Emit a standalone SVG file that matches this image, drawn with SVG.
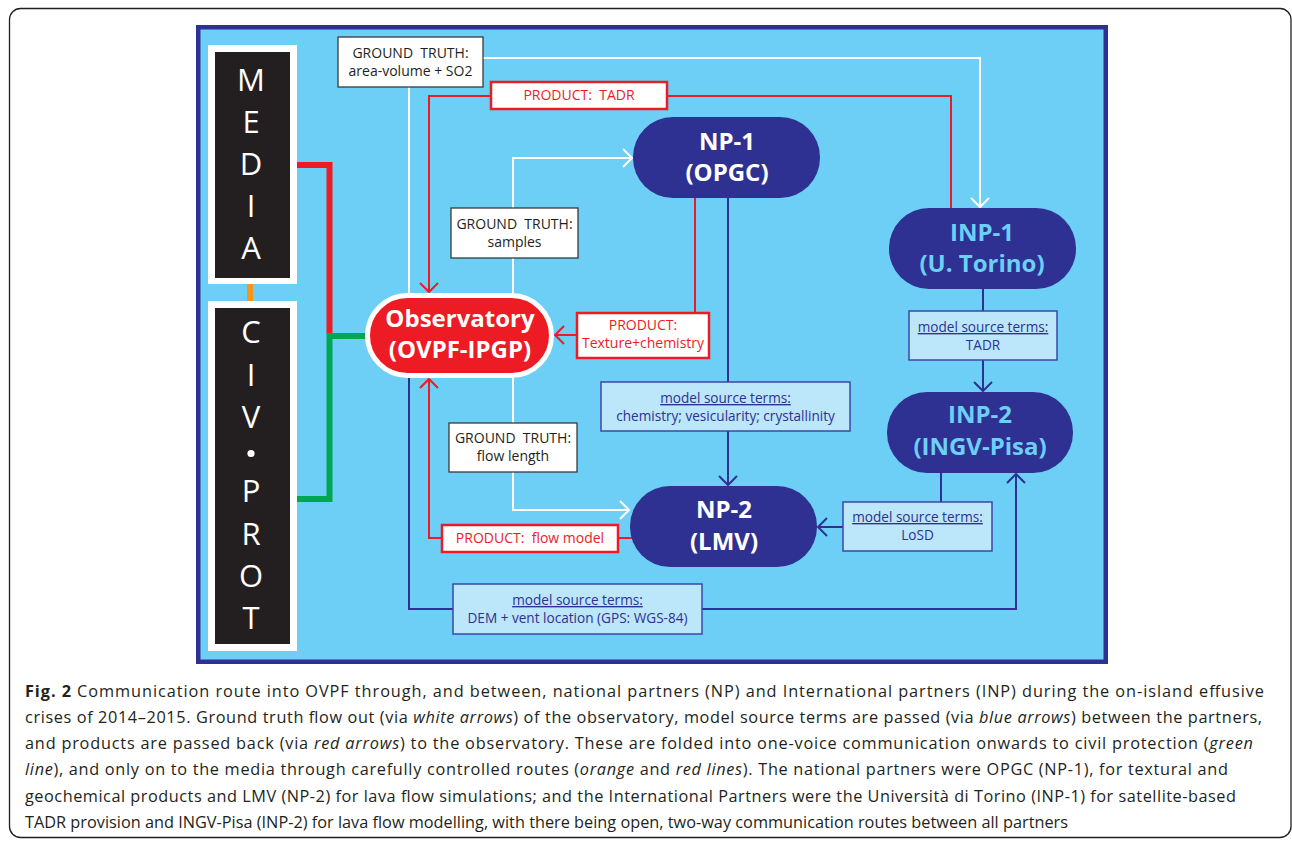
<svg xmlns="http://www.w3.org/2000/svg" width="1292" height="841" viewBox="0 0 1292 841">
<style>
text{font-family:"Open Sans","Noto Sans","DejaVu Sans",sans-serif;}
.node-text{font-weight:bold;font-size:24px;text-anchor:middle;}
.w{fill:#ffffff;}
.lb{fill:#6dcff6;}
.gt rect{fill:#ffffff;stroke:#3a3a3a;stroke-width:1.3;}
.gt text{fill:#231f20;font-size:14px;text-anchor:middle;}
.pr rect{fill:#ffffff;stroke:#ed1c24;stroke-width:2.5;}
.pr text{fill:#ed1c24;font-size:14px;text-anchor:middle;}
.ms rect{fill:#bce6fa;stroke:#3a48a8;stroke-width:1.5;}
.ms text{fill:#2e3192;font-size:13.6px;text-anchor:middle;}
.ul{text-decoration:underline;}
.big{fill:#ffffff;font-size:31px;text-anchor:middle;}
.cap{fill:#231f20;font-size:16.3px;}
.it{font-style:italic;}
.cw{fill:none;stroke:#ffffff;stroke-width:2;}
.cr{fill:none;stroke:#ed1c24;stroke-width:2;}
.cb{fill:none;stroke:#2e3192;stroke-width:2;}
</style>
<defs>
<marker id="aw" markerUnits="userSpaceOnUse" markerWidth="24" markerHeight="24" viewBox="-12 -12 24 24" refX="0" refY="0" orient="auto"><path d="M-9,-9 L0,0 L-9,9" fill="none" stroke="#ffffff" stroke-width="2"/></marker>
<marker id="ar" markerUnits="userSpaceOnUse" markerWidth="24" markerHeight="24" viewBox="-12 -12 24 24" refX="0" refY="0" orient="auto"><path d="M-9,-9 L0,0 L-9,9" fill="none" stroke="#ed1c24" stroke-width="2"/></marker>
<marker id="ab" markerUnits="userSpaceOnUse" markerWidth="24" markerHeight="24" viewBox="-12 -12 24 24" refX="0" refY="0" orient="auto"><path d="M-9,-9 L0,0 L-9,9" fill="none" stroke="#2e3192" stroke-width="2"/></marker>
</defs>
<rect x="0" y="0" width="1292" height="841" fill="#ffffff"/>
<rect x="9.5" y="8.5" width="1281.5" height="829" rx="11" fill="none" stroke="#231f20" stroke-width="1.3"/>
<rect id="frame" x="198.25" y="27.25" width="907.5" height="634.5" fill="#6dcff6" stroke="#2e3192" stroke-width="4.5"/>

<g id="connectors">
<path d="M297,165 H329.5 V334" fill="none" stroke="#ed1c24" stroke-width="6"/>
<path d="M365,336 H329.5 V499 H297" fill="none" stroke="#00a651" stroke-width="6"/>
<path d="M250,283 V302" fill="none" stroke="#f7941d" stroke-width="6"/>
<path class="cw" d="M409,293 V87"/>
<path class="cw" d="M483,58 H980 V207" marker-end="url(#aw)"/>
<path class="cw" d="M513,293 V158 H632" marker-end="url(#aw)"/>
<path class="cw" d="M513,378 V510 H629" marker-end="url(#aw)"/>
<path class="cr" d="M491,96 H429 V292" marker-end="url(#ar)"/>
<path class="cr" d="M667,96 H951 V209"/>
<path class="cr" d="M695,196 V313"/>
<path class="cr" d="M577,335 H555" marker-end="url(#ar)"/>
<path class="cr" d="M633,538 H618"/>
<path class="cr" d="M442,538 H429 V379" marker-end="url(#ar)"/>
<path class="cb" d="M728,196 V382"/>
<path class="cb" d="M728,431 V485" marker-end="url(#ab)"/>
<path class="cb" d="M983,287 V311"/>
<path class="cb" d="M983,360 V391" marker-end="url(#ab)"/>
<path class="cb" d="M941,471 V502"/>
<path class="cb" d="M843,527 H818" marker-end="url(#ab)"/>
<path class="cb" d="M409,378 V609 H453"/>
<path class="cb" d="M702,609 H1016 V474" marker-end="url(#ab)"/>
</g>

<g id="media">
<rect x="208" y="45" width="89" height="239" fill="#ffffff"/>
<rect x="215" y="52" width="75" height="226" fill="#231f20"/>
<text class="big" x="251" y="91">M</text>
<text class="big" x="251" y="133">E</text>
<text class="big" x="251" y="175">D</text>
<text class="big" x="251" y="217">I</text>
<text class="big" x="251" y="259">A</text>
</g>

<g id="civprot">
<rect x="208" y="301" width="89" height="350" fill="#ffffff"/>
<rect x="215" y="308" width="75" height="336" fill="#231f20"/>
<text class="big" x="251" y="343">C</text>
<text class="big" x="251" y="386">I</text>
<text class="big" x="251" y="428">V</text>
<circle cx="251" cy="453.5" r="3.6" fill="#ffffff"/>
<text class="big" x="251" y="502">P</text>
<text class="big" x="251" y="545">R</text>
<text class="big" x="251" y="587">O</text>
<text class="big" x="251" y="629">T</text>
</g>

<g id="observatory">
<rect x="367.5" y="295.5" width="184" height="80" rx="40" fill="#ed1c24" stroke="#ffffff" stroke-width="5"/>
<text class="node-text w" x="460" y="327">Observatory</text>
<text class="node-text w" x="460" y="358">(OVPF-IPGP)</text>
</g>

<g id="np1">
<rect x="633" y="117" width="187" height="81" rx="40" fill="#2e3192"/>
<text class="node-text w" x="727" y="150">NP-1</text>
<text class="node-text w" x="727" y="181">(OPGC)</text>
</g>

<g id="inp1">
<rect x="889" y="208" width="187" height="81" rx="40" fill="#2e3192"/>
<text class="node-text lb" x="982" y="241">INP-1</text>
<text class="node-text lb" x="982" y="272">(U. Torino)</text>
</g>

<g id="inp2">
<rect x="887" y="392" width="186" height="81" rx="40" fill="#2e3192"/>
<text class="node-text lb" x="980" y="423">INP-2</text>
<text class="node-text lb" x="980" y="455">(INGV-Pisa)</text>
</g>

<g id="np2">
<rect x="630" y="486" width="187" height="81" rx="40" fill="#2e3192"/>
<text class="node-text w" x="724" y="518">NP-2</text>
<text class="node-text w" x="724" y="550">(LMV)</text>
</g>

<g id="gt-area" class="gt">
<rect x="338" y="37" width="145" height="50"/>
<text x="410.5" y="58" xml:space="preserve">GROUND  TRUTH:</text>
<text x="410.5" y="76">area-volume + SO2</text>
</g>

<g id="gt-samples" class="gt">
<rect x="451" y="208" width="127" height="50"/>
<text x="514.5" y="229" xml:space="preserve">GROUND  TRUTH:</text>
<text x="514.5" y="247">samples</text>
</g>

<g id="gt-flow" class="gt">
<rect x="449" y="423" width="128" height="49"/>
<text x="513" y="443" xml:space="preserve">GROUND  TRUTH:</text>
<text x="513" y="461">flow length</text>
</g>

<g id="pr-tadr" class="pr">
<rect x="491" y="82" width="176" height="27"/>
<text x="579" y="100" xml:space="preserve">PRODUCT:  TADR</text>
</g>

<g id="pr-texture" class="pr">
<rect x="577" y="313" width="132" height="45"/>
<text x="643" y="330">PRODUCT:</text>
<text x="643" y="348">Texture+chemistry</text>
</g>

<g id="pr-flow" class="pr">
<rect x="442" y="525" width="176" height="27"/>
<text x="530" y="543" xml:space="preserve">PRODUCT:  flow model</text>
</g>

<g id="ms-chem" class="ms">
<rect x="601" y="382" width="249" height="49"/>
<text class="ul" x="725.5" y="403">model source terms:</text>
<text x="725.5" y="421">chemistry; vesicularity; crystallinity</text>
</g>

<g id="ms-tadr" class="ms">
<rect x="909" y="311" width="148" height="49"/>
<text class="ul" x="983" y="332">model source terms:</text>
<text x="983" y="350">TADR</text>
</g>

<g id="ms-losd" class="ms">
<rect x="843" y="502" width="149" height="49"/>
<text class="ul" x="917.5" y="522">model source terms:</text>
<text x="917.5" y="540">LoSD</text>
</g>

<g id="ms-dem" class="ms">
<rect x="453" y="584" width="249" height="50"/>
<text class="ul" x="577.5" y="605">model source terms:</text>
<text x="577.5" y="623">DEM + vent location (GPS: WGS-84)</text>
</g>

<g id="caption">
<text class="cap" x="25" y="697" textLength="1239"><tspan font-weight="bold">Fig. 2</tspan> Communication route into OVPF through, and between, national partners (NP) and International partners (INP) during the on-island effusive</text>
<text class="cap" x="25" y="723" textLength="1237">crises of 2014–2015. Ground truth flow out (via <tspan class="it">white arrows</tspan>) of the observatory, model source terms are passed (via <tspan class="it">blue arrows</tspan>) between the partners,</text>
<text class="cap" x="25" y="749" textLength="1228">and products are passed back (via <tspan class="it">red arrows</tspan>) to the observatory. These are folded into one-voice communication onwards to civil protection (<tspan class="it">green</tspan></text>
<text class="cap" x="25" y="775" textLength="1203"><tspan class="it">line</tspan>), and only on to the media through carefully controlled routes (<tspan class="it">orange</tspan> and <tspan class="it">red lines</tspan>). The national partners were OPGC (NP-1), for textural and</text>
<text class="cap" x="25" y="802" textLength="1211">geochemical products and LMV (NP-2) for lava flow simulations; and the International Partners were the Università di Torino (INP-1) for satellite-based</text>
<text class="cap" x="25" y="828" textLength="1043">TADR provision and INGV-Pisa (INP-2) for lava flow modelling, with there being open, two-way communication routes between all partners</text>
</g>
</svg>
